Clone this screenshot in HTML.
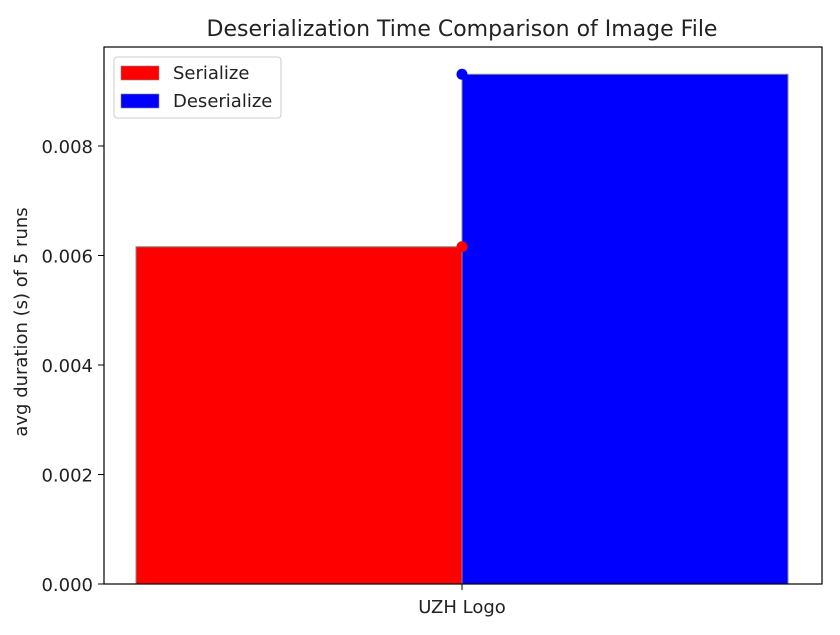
<!DOCTYPE html>
<html><head><meta charset="utf-8"><style>
html,body{margin:0;padding:0;background:#fff;}
svg text{font-family:"DejaVu Sans","Liberation Sans",sans-serif;fill:#222;}
</style></head><body>
<svg id="chart" width="840" height="630" viewBox="0 0 840 630">
<text x="462" y="36" font-size="22" text-anchor="middle">Deserialization Time Comparison of Image File</text>
<g id="bars"></g>
<g id="yticks"></g>
<rect x="104" y="47" width="718" height="537" fill="none" stroke="#000" stroke-width="1.2"/>
<line x1="462" y1="584" x2="462" y2="590" stroke="#000"/>
<text x="462" y="613" font-size="18" text-anchor="middle">UZH Logo</text>
<text transform="translate(27,322) rotate(-90)" font-size="18" text-anchor="middle">avg duration (s) of 5 runs</text>
<g>
<rect x="114" y="57" width="167" height="61" rx="3" fill="#fff" stroke="#ccc"/>
<rect x="121" y="66" width="38" height="14" fill="red" stroke="#888" stroke-width="0.6"/>
<text x="173" y="79" font-size="18">Serialize</text>
<rect x="121" y="94" width="38" height="14" fill="blue" stroke="#888" stroke-width="0.6"/>
<text x="173" y="107" font-size="18">Deserialize</text>
</g>
</svg>
<script>
const categories = ["UZH Logo"];
const seriesNames = ["Serialize", "Deserialize"];
const serializeValues = [0.00616];
const deserializeValues = [0.00931];
const yTicks = [0, 0.002, 0.004, 0.006, 0.008];
const yTickLabels = ["0.000", "0.002", "0.004", "0.006", "0.008"];

const NS = "http://www.w3.org/2000/svg";
const y0 = 584, pxPerUnit = 109.5 / 0.002;
function yScale(v){ return y0 - v * pxPerUnit; }
const centerX = 462, barW = 326;

const yg = document.getElementById('yticks');
yTicks.forEach((t,i)=>{
  const y = yScale(t);
  const l = document.createElementNS(NS,'line');
  l.setAttribute('x1',98); l.setAttribute('x2',104); l.setAttribute('y1',y); l.setAttribute('y2',y);
  l.setAttribute('stroke','#000');
  
  
  yg.appendChild(l);
  const tx = document.createElementNS(NS,'text');
  tx.setAttribute('x',93); tx.setAttribute('y',y+7); tx.setAttribute('font-size','18'); tx.setAttribute('text-anchor','end');
  tx.textContent = yTickLabels[i];
  
  
  yg.appendChild(tx);
});

const bg = document.getElementById('bars');
categories.forEach((c,i)=>{
  [[serializeValues[i],'red',-1],[deserializeValues[i],'blue',0]].forEach(([v,col,off],k)=>{
    const x = centerX + off*barW;
    const r = document.createElementNS(NS,'rect');
    r.setAttribute('x',x); r.setAttribute('y',yScale(v)); r.setAttribute('width',barW); r.setAttribute('height',y0-yScale(v));
    r.setAttribute('fill',col); r.setAttribute('stroke','#888'); r.setAttribute('stroke-width','1');
    
    
    bg.appendChild(r);
  });
  [[serializeValues[i],'red'],[deserializeValues[i],'blue']].forEach(([v,col],k)=>{
    const p = document.createElementNS(NS,'circle');
    p.setAttribute('cx',centerX); p.setAttribute('cy',yScale(v)); p.setAttribute('r',5.5); p.setAttribute('fill',col);
    
    
    bg.appendChild(p);
  });
});
</script>
</body></html>
